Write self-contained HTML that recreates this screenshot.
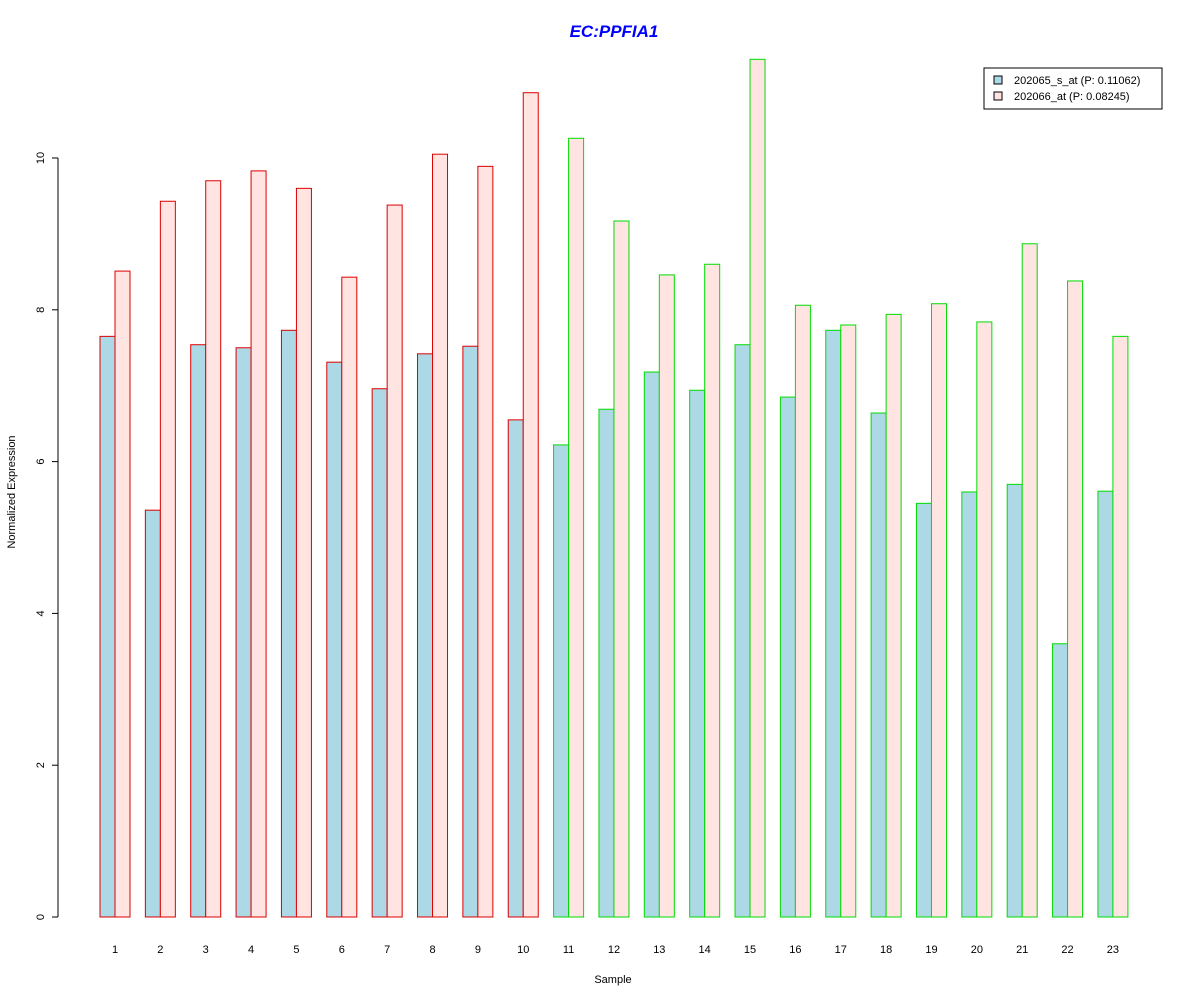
<!DOCTYPE html>
<html><head><meta charset="utf-8"><style>
body{margin:0;background:#fff}
svg text{font-family:"Liberation Sans",Arial,sans-serif}
</style></head><body>
<svg id="chart" width="1200" height="1000" xmlns="http://www.w3.org/2000/svg">
<rect width="1200" height="1000" fill="#fff"/>
<text x="614" y="37" text-anchor="middle" font-size="17" font-weight="bold" font-style="italic" fill="#0000ff">EC:PPFIA1</text>
<text transform="translate(15,492) rotate(-90)" text-anchor="middle" font-size="11">Normalized Expression</text>
<text x="613" y="983" text-anchor="middle" font-size="11">Sample</text>
<g id="yaxis"></g>
<g id="bars"></g>
<g id="xlabels"></g>
<g>
<rect x="984" y="68" width="178" height="41" fill="#fff" stroke="#000"/>
<rect x="994" y="76" width="8" height="8" fill="#add8e6" stroke="#000"/>
<text x="1014" y="84" font-size="11">202065_s_at (P: 0.11062)</text>
<rect x="994" y="92" width="8" height="8" fill="#ffe4e1" stroke="#000"/>
<text x="1014" y="100" font-size="11">202066_at (P: 0.08245)</text>
</g>
</svg>
<script>
const samples=[1,2,3,4,5,6,7,8,9,10,11,12,13,14,15,16,17,18,19,20,21,22,23];
const series1=[7.65,5.36,7.54,7.50,7.73,7.31,6.96,7.42,7.52,6.55,6.22,6.69,7.18,6.94,7.54,6.85,7.73,6.64,5.45,5.60,5.70,3.60,5.61];
const series2=[8.51,9.43,9.70,9.83,9.60,8.43,9.38,10.05,9.89,10.86,10.26,9.17,8.46,8.60,11.30,8.06,7.80,7.94,8.08,7.84,8.87,8.38,7.65];
const groups=[1,1,1,1,1,1,1,1,1,1,2,2,2,2,2,2,2,2,2,2,2,2,2];
const yTicks=[0,2,4,6,8,10];
const NS="http://www.w3.org/2000/svg";
const y=v=>917-v*75.9;
const xc=i=>115+i*45.36;
function mk(tag,attrs,parent){const e=document.createElementNS(NS,tag);for(const k in attrs)e.setAttribute(k,attrs[k]);parent.appendChild(e);return e;}
const ya=document.getElementById('yaxis');
const yl=mk('line',{x1:58,x2:58,y1:y(10),y2:y(0),stroke:'#000'},ya);


yTicks.forEach(t=>{
 const l=mk('line',{x1:52,x2:58,y1:y(t),y2:y(t),stroke:'#000'},ya);
 
 
 const tx=mk('text',{transform:`translate(44,${y(t)}) rotate(-90)`,'text-anchor':'middle','font-size':11},ya);
 tx.textContent=t;
 
 
});
const bg=document.getElementById('bars'),xl=document.getElementById('xlabels');
samples.forEach((s,i)=>{
 const st=groups[i]===1?'#dd0000':'#00dd00';
 const b1=mk('rect',{x:xc(i)-15,y:y(series1[i]),width:15,height:y(0)-y(series1[i]),fill:'#add8e6',stroke:st},bg);
 
 
 const b2=mk('rect',{x:xc(i),y:y(series2[i]),width:15,height:y(0)-y(series2[i]),fill:'#ffe4e1',stroke:st},bg);
 
 
 const t=mk('text',{x:xc(i),y:953,'text-anchor':'middle','font-size':11},xl);
 t.textContent=s;
 
 
});
</script>
</body></html>
